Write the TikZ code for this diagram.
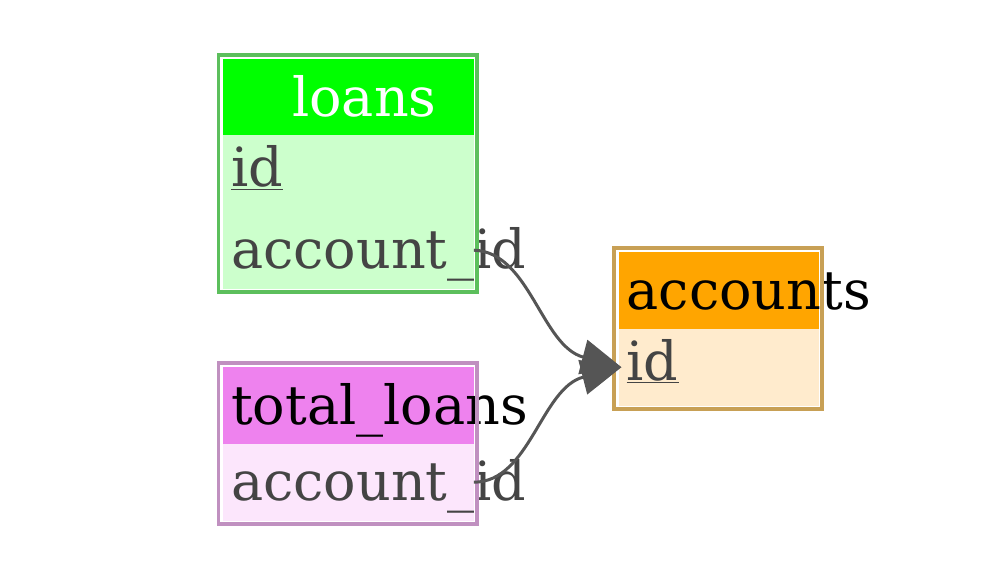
\documentclass[tikz,border=0pt]{standalone}
\usepackage{fontspec}
\setmainfont{DejaVu Serif}
\usetikzlibrary{arrows.meta}
\hyphenpenalty=10000
\exhyphenpenalty=10000

\definecolor{loansHead}{HTML}{00FF00}
\definecolor{loansBody}{HTML}{CCFFCC}
\definecolor{loansLine}{HTML}{5CBF5C}
\definecolor{totalHead}{HTML}{EE82EE}
\definecolor{totalBody}{HTML}{FCE6FC}
\definecolor{totalLine}{HTML}{C090C0}
\definecolor{accHead}{HTML}{FFA500}
\definecolor{accBody}{HTML}{FFEBCD}
\definecolor{accLine}{HTML}{C8A055}
\definecolor{fieldText}{HTML}{444444}
\definecolor{edgeGray}{HTML}{555555}

\begin{document}
\begin{tikzpicture}[x = 1pt, y = -1pt, font = \fontsize{54}{64}\selectfont]
	\tikzstyle{cellStyle} = [anchor = north west, inner xsep = 8pt, inner ysep = 0pt, align = left, text height = 40pt, minimum height = 77pt]
	\tikzstyle{wideStyle} = [text width = 234.5pt]
	\tikzstyle{narrowStyle} = [text width = 184pt]
	\tikzstyle{headStyle} = [cellStyle, text depth = 3pt]
	\tikzstyle{fieldStyle} = [cellStyle, text depth = 3pt, text = fieldText]
	\tikzstyle{keyStyle} = [fieldStyle, text depth = 13.5pt]
	\tikzstyle{borderStyle} = [line width = 3.5pt]
	\tikzstyle{edgeStyle} = [draw = edgeGray, line width = 3pt, -{Triangle[length = 40pt, width = 35pt]}]
	\useasboundingbox (0,0) rectangle (1000,580);
	% loans
	\node[headStyle, wideStyle, fill = loansHead, text = white] (loans) at (223,59) {\hspace*{61pt}loans};
	\node[keyStyle, wideStyle, fill = loansBody] (loans-id) at (223,135) {\underline{id}};
	\node[fieldStyle, wideStyle, fill = loansBody] (loans-acc) at (223,211.5) {account\_id};
	\draw[borderStyle, loansLine] ([shift = {(-4.5,-4)}]loans.north west) rectangle ([shift = {(3,3)}]loans-acc.south east);
	% total_loans
	\node[headStyle, wideStyle, fill = totalHead] (total) at (223,367) {total\_loans};
	\node[fieldStyle, wideStyle, fill = totalBody] (total-acc) at (223,443.5) {account\_id};
	\draw[borderStyle, totalLine] ([shift = {(-4.5,-4)}]total.north west) rectangle ([shift = {(3,3)}]total-acc.south east);
	% accounts
	\node[headStyle, narrowStyle, fill = accHead] (accounts) at (618.5,252) {accounts};
	\node[keyStyle, narrowStyle, fill = accBody] (accounts-id) at (618.5,328.5) {\underline{id}};
	\draw[borderStyle, accLine] ([shift = {(-4.5,-4)}]accounts.north west) rectangle ([shift = {(3,3)}]accounts-id.south east);
	% references
	\draw[edgeStyle] (loans-acc.east) .. controls (530,252) and (541,346) .. ([xshift = 3pt]accounts-id.west);
	\draw[edgeStyle] (total-acc.east) .. controls (530,482) and (541,388) .. ([xshift = 3pt]accounts-id.west);
\end{tikzpicture}
\end{document}
